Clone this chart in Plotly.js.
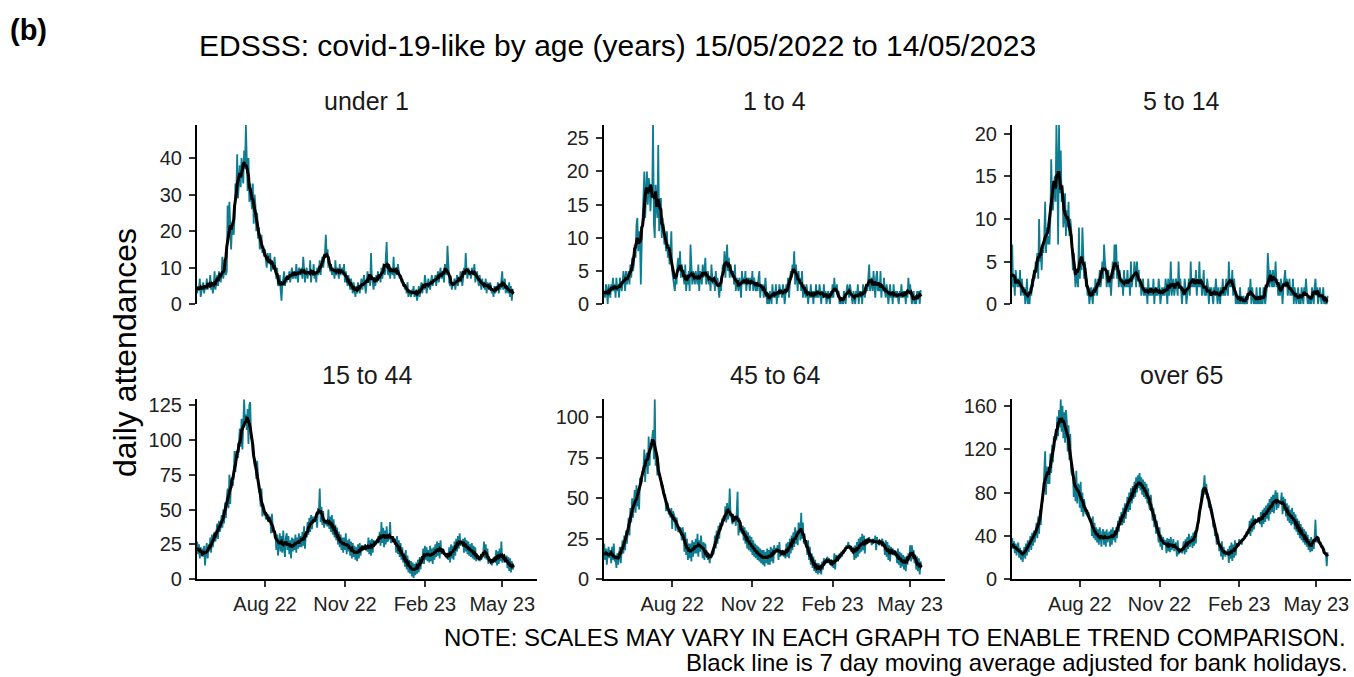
<!DOCTYPE html>
<html>
<head>
<meta charset="utf-8">
<script src="https://cdn.plot.ly/plotly-3.0.1.min.js"></script>
<style>
  html, body { margin: 0; padding: 0; background: #ffffff; }
  #chart { width: 1354px; height: 677px; }
</style>
</head>
<body>
<div id="chart"></div>
<script>
// Daily EDSSS covid-19-like attendances, 15/05/2022 to 14/05/2023 (one row per week)
const START_DATE = '2022-05-15';

const panelTitles = ['under 1', '1 to 4', '5 to 14', '15 to 44', '45 to 64', 'over 65'];

const under1 = [
  3,5,4,7,2,4,5, 6,3,5,4,7,4,5, 5,8,4,6,3,5,9, 4,6,8,5,9,7,6,
  8,13,7,9,11,8,9, 27,18,28,22,15,21,20, 19,24,33,30,41,29,35, 38,32,40,36,33,42,37,
  49,35,31,40,28,33,30, 26,33,22,30,27,20,25, 18,21,15,17,19,14,16, 13,15,12,10,14,12,11,
  14,9,12,11,10,13,8, 7,10,5,6,8,4,1, 6,7,9,5,7,6,8, 7,9,6,8,10,7,8,
  9,7,11,8,6,10,9, 8,10,7,13,9,6,9, 10,7,9,8,12,6,9, 8,11,7,9,6,10,8,
  9,12,8,11,13,10,12, 14,19,13,15,10,12,9, 11,8,10,9,7,12,8, 10,9,7,11,8,9,10,
  8,11,6,9,7,5,8, 6,4,7,5,3,6,4, 2,5,3,6,4,3,5, 7,4,6,8,5,3,6,
  9,6,8,5,14,7,6, 4,7,5,8,6,9,7, 8,6,10,7,9,11,8, 12,17,9,8,11,7,10,
  9,8,13,7,10,9,8, 11,9,7,8,6,7,5, 6,4,5,3,6,2,4, 3,2,4,3,5,2,3,
  4,1,3,5,2,4,6, 3,5,4,8,6,3,5, 7,5,4,6,8,5,7, 6,8,5,7,9,6,8,
  10,7,9,8,6,11,9, 8,16,9,6,5,7,4, 6,5,7,4,6,8,5, 7,6,9,8,5,7,10,
  8,14,9,7,10,8,9, 7,10,8,9,11,6,8, 9,7,5,8,6,4,7, 5,6,4,7,3,6,5,
  4,6,5,3,4,2,5, 3,5,4,6,3,5,4, 6,9,4,5,7,3,5, 4,3,6,2,5,1,4,
  4
];

const age1to4 = [
  2,1,3,2,0,3,2, 1,3,2,4,2,3,1, 4,2,3,1,4,3,2, 3,5,4,2,5,3,4,
  5,3,6,4,7,5,6, 9,7,12,13,8,11,10, 3,9,12,16,20,13,18, 20,15,19,18,14,17,16,
  27,12,10,18,15,13,24, 11,14,16,10,13,12,9, 10,8,11,7,9,6,8, 11,5,4,3,2,4,3,
  6,7,5,8,4,6,5, 4,3,6,2,4,3,5, 2,9,4,3,5,4,3, 5,4,3,6,2,5,4,
  3,6,4,5,7,3,4, 5,3,4,2,6,4,3, 4,2,5,3,4,2,1, 3,2,4,6,5,8,4,
  6,9,5,7,4,6,5, 4,5,3,6,2,4,3, 2,4,3,1,5,3,4, 3,5,2,4,3,4,2,
  4,3,5,2,4,3,2, 3,2,4,5,1,3,2, 3,1,2,4,2,0,1, 0,2,1,0,3,1,2,
  1,3,0,2,1,3,2, 2,1,3,2,0,2,3, 2,4,1,3,5,4,6, 5,8,3,6,4,2,5,
  3,4,2,5,1,3,2, 1,3,2,0,2,1,3, 1,2,0,2,1,3,1, 2,1,3,2,0,2,1,
  3,1,2,0,1,2,1, 0,2,1,3,1,4,2, 2,3,1,2,0,1,0, 1,0,2,1,0,2,3,
  2,1,3,2,1,0,2, 1,0,2,1,3,0,2, 1,2,0,3,2,1,2, 3,2,4,6,2,3,4,
  2,5,3,1,4,5,2, 3,2,5,1,3,2,4, 2,1,3,2,0,2,3, 1,2,0,3,1,2,1,
  2,1,0,2,1,3,1, 2,1,2,0,2,1,4, 2,3,1,0,1,2,0, 1,0,2,1,2,0,2,
  2
];

const age5to14 = [
  7,2,3,1,4,3,2, 3,2,4,1,3,2,1, 2,0,1,3,0,1,0, 2,1,3,2,4,3,5,
  4,6,3,10,5,6,4, 7,6,8,12,6,9,7, 8,7,10,17,12,11,13, 15,12,21,16,7,21,13,
  18,12,14,9,10,13,8, 11,9,12,8,10,9,7, 4,6,3,2,4,3,2, 9,3,5,4,9,6,3,
  5,2,3,1,2,0,1, 2,1,0,2,1,3,2, 1,3,2,4,2,3,5, 3,7,5,4,2,3,4,
  2,3,1,4,5,3,7, 4,7,3,5,2,4,3, 2,3,1,4,2,3,2, 4,2,3,1,5,2,3,
  3,5,4,2,5,3,4, 2,3,1,2,3,1,2, 1,2,0,3,1,2,1, 2,1,3,0,2,1,2,
  1,3,2,0,1,2,1, 2,1,3,2,0,3,1, 2,5,1,2,3,1,2, 3,2,1,5,2,3,1,
  0,2,1,3,2,0,1, 2,3,1,5,2,3,2, 3,2,4,1,3,2,5, 2,3,1,2,4,1,2,
  1,3,2,0,2,1,2, 1,0,2,1,3,1,0, 2,1,0,2,1,3,1, 2,1,3,2,1,5,2,
  3,2,4,1,3,2,0, 1,0,1,0,2,0,1, 0,1,0,0,1,0,1, 2,1,3,0,2,1,0,
  1,0,2,0,1,0,2, 0,1,0,2,1,0,1, 2,6,3,2,4,3,2, 4,2,3,5,2,3,1,
  2,1,3,2,0,2,3, 4,2,3,1,2,3,1, 2,1,3,0,2,1,0, 1,2,0,1,0,2,1,
  0,2,1,3,1,0,1, 0,1,0,2,1,0,2, 3,1,2,0,1,2,1, 0,1,2,0,1,0,0,
  1
];

const age15to44 = [
  27,18,25,15,23,17,22, 16,24,10,20,26,15,23, 20,30,19,32,23,29,34, 27,36,40,29,42,34,37,
  46,37,50,40,55,44,58, 65,51,75,54,71,70,67, 75,92,77,89,88,87,98, 108,95,115,93,107,129,111,
  118,107,122,97,125,127,101, 101,89,91,81,83,72,85, 73,63,62,52,65,45,54, 48,49,43,44,46,46,41,
  45,33,47,36,36,34,33, 21,32,17,29,33,20,31, 19,35,23,16,30,33,21, 31,18,28,15,30,20,29,
  21,32,19,30,22,33,23, 31,23,34,24,38,22,33, 30,41,32,44,34,46,36, 45,42,41,44,46,37,51,
  49,65,41,52,39,49,37, 41,41,39,38,50,36,45, 34,46,32,43,30,39,28, 37,25,34,23,32,21,30,
  19,30,21,33,18,28,20, 29,17,27,15,26,16,24, 14,23,13,25,15,26,17, 24,22,23,23,25,21,22,
  20,30,18,28,17,29,19, 28,25,25,27,29,26,27, 34,24,41,26,37,23,35, 25,38,27,28,30,41,26,
  30,29,27,27,29,19,31, 18,28,16,26,14,23,12, 19,9,21,7,17,5,14, 4,13,2,12,1,11,3,
  12,4,14,5,16,7,15, 12,22,11,24,14,23,13, 21,12,24,13,22,11,23, 14,25,16,27,17,26,15,
  28,18,22,20,19,17,18, 15,17,14,23,12,25,15, 24,14,27,17,29,20,31, 22,33,24,27,26,29,19,
  30,20,28,18,27,17,25, 16,26,15,24,14,23,13, 18,15,16,13,15,14,17, 17,27,15,25,14,22,11,
  15,12,13,10,14,13,16, 12,21,10,20,11,22,13, 27,12,16,15,15,13,17, 8,16,6,15,5,13,7,
  9
];

const age45to64 = [
  22,12,19,9,16,20,13, 18,10,20,12,22,11,13, 7,16,9,17,20,10,18, 24,16,27,18,30,22,32,
  38,27,44,35,50,38,47, 55,41,58,45,56,43,62, 62,60,66,68,80,60,75, 78,65,88,70,84,82,86,
  92,74,111,70,78,64,72, 66,62,62,56,58,53,52, 52,42,46,47,40,42,38, 44,31,42,40,38,30,38,
  34,29,31,32,31,24,32, 27,17,29,15,25,12,22, 13,22,11,24,14,23,16, 25,16,28,14,24,17,27,
  21,13,23,12,22,14,17, 12,16,10,15,13,17,15, 17,27,19,30,22,33,25, 35,32,33,35,39,37,45,
  35,47,37,40,56,39,38, 34,36,37,37,33,41,54, 27,38,29,31,31,33,24, 32,22,30,19,29,18,27,
  17,26,15,24,14,22,13, 21,12,20,11,19,10,18, 9,18,8,17,10,19,9, 18,9,20,11,19,10,21,
  16,19,18,21,12,23,14, 17,15,18,14,16,13,22, 14,23,13,25,16,27,18, 29,20,32,22,30,21,35,
  33,24,41,25,35,22,25, 21,23,15,24,12,20,9, 16,7,14,5,12,4,10, 3,10,4,9,3,11,6,
  13,9,12,10,14,11,13, 9,12,8,11,7,16,6, 15,11,14,12,16,13,17, 14,18,16,19,18,21,19,
  23,20,21,18,19,16,20, 12,21,13,23,14,25,16, 26,17,28,18,27,16,25, 22,25,24,26,23,24,21,
  25,23,23,27,18,26,22, 24,21,23,23,25,22,22, 15,24,14,23,12,21,11, 20,16,19,17,18,15,17,
  10,19,9,17,7,16,8, 15,6,14,5,13,9,16, 13,21,11,21,15,18,10, 15,6,14,5,13,3,11,
  8
];

const over65 = [
  38,28,35,24,33,22,30, 34,20,29,18,27,16,24, 30,19,33,22,36,25,34, 40,27,43,31,45,34,48,
  52,38,58,42,64,50,70, 72,80,100,118,78,104,88, 102,88,116,98,124,108,132, 130,135,128,150,132,156,140,
  166,136,160,130,154,126,156, 146,118,142,110,134,100,96, 100,76,94,72,100,70,88, 86,66,90,62,80,58,74,
  68,60,64,58,62,56,54, 56,40,58,38,52,36,48, 34,46,32,48,36,30,44, 46,32,44,30,46,34,38,
  44,30,46,32,48,36,44, 34,48,38,54,44,58,50, 62,50,66,52,70,56,72, 76,62,80,64,84,70,86,
  74,90,76,94,80,96,84, 98,82,94,78,92,76,90, 74,88,70,84,68,64,78, 68,54,66,48,60,42,54,
  46,34,48,30,41,27,39, 34,32,36,24,38,26,37, 25,39,27,31,37,26,30, 34,21,36,23,28,25,26,
  24,29,35,23,37,25,39, 28,42,30,34,40,29,43, 31,45,33,48,50,52,58, 68,70,82,83,86,96,78,
  88,74,79,66,70,68,66, 62,48,52,40,44,32,42, 38,26,32,21,35,18,30, 24,21,26,24,28,15,31,
  19,34,17,32,20,36,22, 33,31,31,37,34,34,32, 38,36,40,38,42,41,44, 42,54,40,56,44,59,46,
  56,54,54,52,57,56,51, 62,48,64,51,66,53,68, 56,70,54,74,60,76,62, 78,61,76,82,64,80,66,
  70,70,72,80,60,76,63, 74,58,70,54,68,52,64, 50,66,51,62,46,60,44, 56,41,54,38,51,36,48,
  34,46,32,44,30,41,27, 37,25,39,26,31,28,38, 55,34,38,36,36,33,34, 29,31,26,28,24,24,12,
  25
];

const panelSeries = [under1, age1to4, age5to14, age15to44, age45to64, over65];
const panelTicks = [
  [0, 10, 20, 30, 40],
  [0, 5, 10, 15, 20, 25],
  [0, 5, 10, 15, 20],
  [0, 25, 50, 75, 100, 125],
  [0, 25, 50, 75, 100],
  [0, 40, 80, 120, 160]
];

// calendar dates for each daily value
function buildDates(start, n) {
  const out = [];
  const t0 = Date.parse(start + 'T00:00:00Z');
  for (let i = 0; i < n; i++) {
    out.push(new Date(t0 + i * 86400000).toISOString().slice(0, 10));
  }
  return out;
}

// centred 7 day moving average (shorter window at the ends)
function movingAverage(values, win) {
  const half = Math.floor(win / 2);
  return values.map((_, i) => {
    let s = 0, c = 0;
    for (let j = i - half; j <= i + half; j++) {
      if (j >= 0 && j < values.length) { s += values[j]; c++; }
    }
    return s / c;
  });
}

const TEAL = '#0e7d91';
const colDomains = [[0.14549, 0.39660], [0.44609, 0.69793], [0.74742, 0.99778]];
const rowDomains = [[0.55052, 0.81536], [0.14431, 0.41019]];
const xRange = ['2022-05-14 18:00', '2023-06-10'];

const traces = [];
const layout = {
  width: 1354,
  height: 677,
  margin: { l: 0, r: 0, t: 0, b: 0 },
  paper_bgcolor: '#ffffff',
  plot_bgcolor: '#ffffff',
  showlegend: false,
  font: { family: 'Liberation Sans, Arial, sans-serif', color: '#000000' },
  annotations: []
};

panelSeries.forEach((vals, k) => {
  const n = k + 1;
  const row = Math.floor(k / 3);
  const col = k % 3;
  const xa = n === 1 ? 'x' : 'x' + n;
  const ya = n === 1 ? 'y' : 'y' + n;
  const dates = buildDates(START_DATE, vals.length);

  traces.push({
    type: 'scatter', mode: 'lines', x: dates, y: vals,
    xaxis: xa, yaxis: ya,
    line: { color: TEAL, width: 1.8 },
    hoverinfo: 'skip'
  });
  traces.push({
    type: 'scatter', mode: 'lines', x: dates, y: movingAverage(vals, 7),
    xaxis: xa, yaxis: ya,
    line: { color: '#000000', width: 3 },
    hoverinfo: 'skip'
  });

  const bottom = row === 1;
  layout['xaxis' + (n === 1 ? '' : n)] = {
    domain: colDomains[col],
    anchor: ya,
    type: 'date',
    range: xRange,
    showgrid: false,
    zeroline: false,
    showline: bottom,
    linecolor: '#000000',
    linewidth: 2,
    ticks: bottom ? 'outside' : '',
    ticklen: 6,
    tickwidth: 2,
    tickcolor: '#333333',
    showticklabels: bottom,
    tick0: '2022-08-01',
    dtick: 'M3',
    tickformat: '%b %y',
    tickfont: { size: 20, color: '#222222' }
  };
  layout['yaxis' + (n === 1 ? '' : n)] = {
    domain: rowDomains[row],
    anchor: xa,
    range: [0, Math.max(...vals)],
    showgrid: false,
    zeroline: false,
    showline: true,
    linecolor: '#000000',
    linewidth: 2,
    ticks: 'outside',
    ticklen: 6,
    tickwidth: 2,
    tickcolor: '#333333',
    ticklabelstandoff: 3,
    tickmode: 'array',
    tickvals: panelTicks[k],
    ticktext: panelTicks[k].map(String),
    tickfont: { size: 20, color: '#222222' }
  };

  layout.annotations.push({
    text: panelTitles[k],
    xref: 'paper', yref: 'paper',
    x: (colDomains[col][0] + colDomains[col][1]) / 2,
    y: row === 0 ? 0.85081 : 0.44609,
    xanchor: 'center', yanchor: 'middle',
    showarrow: false,
    font: { size: 25, color: '#1a1a1a' }
  });
});

layout.annotations.push(
  {
    text: '<b>(b)</b>', xref: 'paper', yref: 'paper',
    x: 0.0059, y: 0.9557, xanchor: 'left', yanchor: 'middle',
    showarrow: false, font: { size: 29, color: '#000000' }
  },
  {
    text: 'EDSSS: covid-19-like by age (years) 15/05/2022 to 14/05/2023',
    xref: 'paper', yref: 'paper',
    x: 0.14549, y: 0.93353, xanchor: 'left', yanchor: 'middle',
    showarrow: false, font: { size: 30, color: '#000000' }
  },
  {
    text: 'daily attendances', xref: 'paper', yref: 'paper',
    x: 0.0923, y: 0.48006, xanchor: 'center', yanchor: 'middle',
    textangle: -90, showarrow: false, font: { size: 32, color: '#000000' }
  },
  {
    text: 'NOTE: SCALES MAY VARY IN EACH GRAPH TO ENABLE TREND COMPARISON.',
    xref: 'paper', yref: 'paper',
    x: 0.99557, y: 0.05761, xanchor: 'right', yanchor: 'middle',
    showarrow: false, font: { size: 24, color: '#000000' }
  },
  {
    text: 'Black line is 7 day moving average adjusted for bank holidays.',
    xref: 'paper', yref: 'paper',
    x: 0.99705, y: 0.02068, xanchor: 'right', yanchor: 'middle',
    showarrow: false, font: { size: 24, color: '#000000' }
  }
);

Plotly.newPlot('chart', traces, layout, { staticPlot: true, displayModeBar: false });
</script>
</body>
</html>
